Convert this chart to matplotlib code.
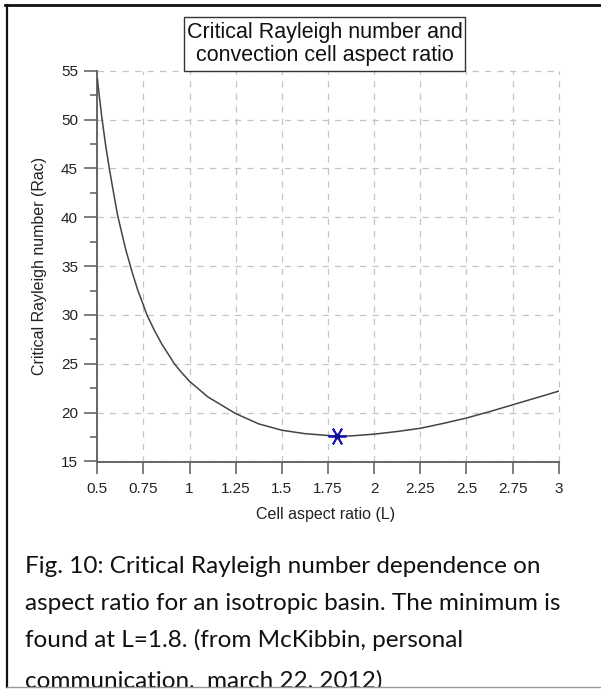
import matplotlib
matplotlib.use("Agg")
import matplotlib.pyplot as plt
from matplotlib.lines import Line2D
from matplotlib.patches import Rectangle
from matplotlib.ticker import MultipleLocator

# ---- data ----
aspect_ratio = [0.50, 0.524, 0.545, 0.565, 0.59, 0.61, 0.63, 0.654, 0.672, 0.69, 0.72, 0.75,
                0.769, 0.81, 0.85, 0.918, 0.95, 1.0, 1.1, 1.25, 1.375, 1.5, 1.625, 1.75,
                1.8, 1.875, 2.0, 2.125, 2.25, 2.375, 2.5, 2.625, 2.75, 2.875, 3.0]
rayleigh = [54.2, 50.3, 47.4, 45.0, 42.3, 40.2, 38.6, 36.7, 35.5, 34.3, 32.5, 31.0,
            30.0, 28.4, 27.0, 25.0, 24.25, 23.2, 21.6, 19.9, 18.85, 18.2, 17.85, 17.66,
            17.6, 17.62, 17.8, 18.07, 18.4, 18.9, 19.45, 20.1, 20.8, 21.5, 22.2]
min_point = (1.8, 17.6)
x_ticks = [0.5, 0.75, 1, 1.25, 1.5, 1.75, 2, 2.25, 2.5, 2.75, 3]
x_tick_labels = ["0.5", "0.75", "1", "1.25", "1.5", "1.75", "2", "2.25", "2.5", "2.75", "3"]
y_ticks = [15, 20, 25, 30, 35, 40, 45, 50, 55]
title = "Critical Rayleigh number and\nconvection cell aspect ratio"
xlabel = "Cell aspect ratio (L)"
ylabel = "Critical Rayleigh number (Rac)"
caption_lines = [
    "Fig. 10: Critical Rayleigh number dependence on",
    "aspect ratio for an isotropic basin. The minimum is",
    "found at L=1.8. (from McKibbin, personal",
    "communication,  march 22, 2012)",
]

W, H = 601, 689
plt.rcParams['font.family'] = ['Liberation Sans', 'DejaVu Sans']
fig = plt.figure(figsize=(W / 100, H / 100), dpi=100)

def fx(px):
    return px / W

def fy(py):
    return 1 - py / H

ax_l, ax_r, ax_t, ax_b = 97.3, 558.7, 70.7, 461.5
ax = fig.add_axes([fx(ax_l), fy(ax_b), fx(ax_r - ax_l), (ax_b - ax_t) / H])

ax.plot(aspect_ratio, rayleigh, color='#444444', lw=1.1, zorder=3)
ax.plot([min_point[0]], [min_point[1]], linestyle='none', marker=(6, 2, 90),
        markersize=13, markeredgecolor='#1a1ab8', markeredgewidth=1.3, zorder=4)
ax.plot([min_point[0]], [min_point[1]], linestyle='none', marker='o',
        markersize=3.2, color='#10108a', zorder=5)

ax.set_xlim(0.5, 3)
ax.set_ylim(15, 55)
ax.set_xticks(x_ticks)
ax.set_xticklabels(x_tick_labels)
ax.set_yticks(y_ticks)
ax.yaxis.set_minor_locator(MultipleLocator(2.5))

for s in ['top', 'right']:
    ax.spines[s].set_visible(False)
for s in ['left', 'bottom']:
    ax.spines[s].set_color('#666666')
    ax.spines[s].set_linewidth(1.4)

ax.tick_params(axis='y', which='major', direction='out', length=9.4, width=1.2,
               color='#666666', labelsize=11, labelcolor='#222222', pad=4.5)
ax.tick_params(axis='y', which='minor', direction='out', length=5, width=1.2,
               color='#666666')
ax.tick_params(axis='x', which='major', direction='out', length=8.6, width=1.2,
               color='#666666', labelsize=11, labelcolor='#222222', pad=6)

ax.grid(True, which='major', color='#c4c4c4', linestyle=(0, (5, 5)), linewidth=0.9)
for gl in ax.get_xgridlines() + ax.get_ygridlines():
    gl.set_clip_on(False)
ax.set_axisbelow(True)

# axis labels
fig.text(fx(326), fy(514), xlabel, ha='center', va='center', fontsize=11.5, color='#222222')
fig.text(fx(40), fy(266), ylabel, ha='center', va='center', rotation=90,
         fontsize=11.5, color='#222222')

# title box
fig.patches.append(Rectangle((fx(184), fy(71)), fx(465 - 184), (71 - 17) / H,
                             transform=fig.transFigure, facecolor='white',
                             edgecolor='#333333', linewidth=1.0, zorder=5))
fig.text(fx(325), fy(44), title, ha='center', va='center', fontsize=15.5,
         color='#111111', linespacing=1.15, zorder=6)

# caption (baselines)
cap_y = [573, 610, 647, 688]
for line, yy in zip(caption_lines, cap_y):
    fig.text(fx(25), fy(yy), line, ha='left', va='baseline', fontsize=17.5,
             family=['Lato', 'DejaVu Sans'], color='#111111', zorder=3)

# white mask below bottom border to clip the last caption line
fig.patches.append(Rectangle((0, 0), 1, 2.5 / H, transform=fig.transFigure,
                             facecolor='white', edgecolor='none', zorder=8))

# borders
fig.lines.append(Line2D([fx(5), 1], [fy(5), fy(5)], transform=fig.transFigure,
                        color='#111111', lw=2.0, zorder=10))
fig.lines.append(Line2D([fx(6.5), fx(6.5)], [fy(5), fy(686.5)], transform=fig.transFigure,
                        color='#111111', lw=1.6, zorder=10))
fig.lines.append(Line2D([fx(6.5), 1], [fy(686.5), fy(686.5)], transform=fig.transFigure,
                        color='#999999', lw=1.0, zorder=10))

fig.savefig('out.png', dpi=100, facecolor='white')
